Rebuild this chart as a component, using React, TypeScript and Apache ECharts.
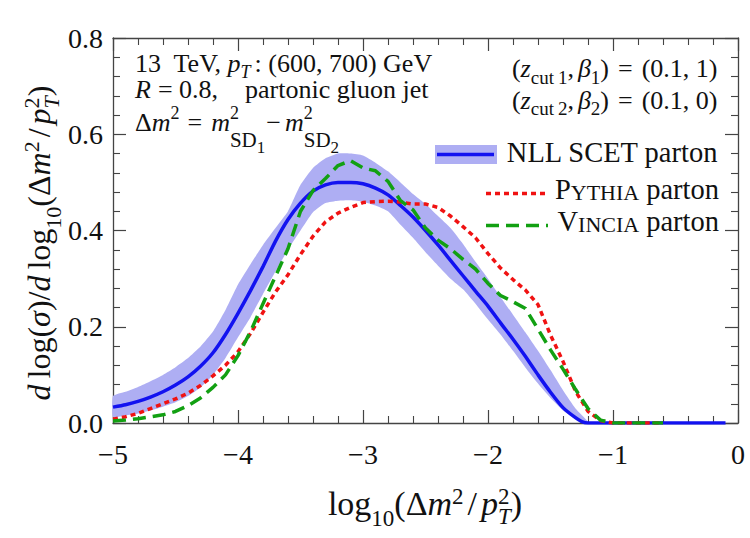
import React, { useEffect, useRef } from "react";
import * as echarts from "echarts";

const SERIF = "Liberation Serif";

// NLL SCET parton: central curve
const nllX = [-5.0, -4.9, -4.8, -4.7, -4.6, -4.5, -4.4, -4.3, -4.2, -4.1, -4.0, -3.9, -3.8, -3.7, -3.6, -3.5, -3.4, -3.3, -3.2, -3.1, -3.0, -2.9, -2.8, -2.7, -2.6, -2.5, -2.4, -2.3, -2.2, -2.1, -2.0, -1.9, -1.8, -1.7, -1.6, -1.5, -1.4, -1.3, -1.25, -1.2, -0.1];
const nllY = [0.033, 0.038, 0.045, 0.054, 0.065, 0.079, 0.096, 0.118, 0.146, 0.184, 0.228, 0.275, 0.325, 0.378, 0.423, 0.457, 0.482, 0.495, 0.5, 0.5, 0.497, 0.488, 0.474, 0.452, 0.428, 0.4, 0.37, 0.338, 0.306, 0.274, 0.243, 0.208, 0.174, 0.138, 0.1, 0.064, 0.032, 0.011, 0.003, 0, 0];

// NLL SCET parton: uncertainty band
const bandX = [-5.0, -4.9, -4.8, -4.7, -4.6, -4.5, -4.4, -4.3, -4.2, -4.1, -4.0, -3.9, -3.8, -3.7, -3.6, -3.5, -3.4, -3.3, -3.2, -3.1, -3.0, -2.9, -2.8, -2.7, -2.6, -2.5, -2.4, -2.3, -2.2, -2.1, -2.0, -1.9, -1.8, -1.7, -1.6, -1.5, -1.4, -1.3, -1.2];
const bandHigh = [0.056, 0.065, 0.075, 0.087, 0.1, 0.116, 0.135, 0.159, 0.19, 0.235, 0.288, 0.33, 0.37, 0.405, 0.44, 0.495, 0.53, 0.55, 0.56, 0.56, 0.556, 0.541, 0.523, 0.5, 0.476, 0.455, 0.43, 0.405, 0.372, 0.335, 0.3, 0.262, 0.225, 0.188, 0.15, 0.11, 0.068, 0.03, 0.003];
const bandLow = [0.012, 0.016, 0.02, 0.026, 0.034, 0.043, 0.056, 0.074, 0.1, 0.135, 0.178, 0.22, 0.268, 0.315, 0.36, 0.4, 0.438, 0.457, 0.462, 0.463, 0.46, 0.452, 0.44, 0.412, 0.385, 0.355, 0.327, 0.3, 0.278, 0.248, 0.215, 0.184, 0.15, 0.115, 0.082, 0.052, 0.026, 0.008, 0.0];

// Pythia parton
const pythiaX = [-5.0, -4.9, -4.8, -4.7, -4.6, -4.5, -4.4, -4.3, -4.2, -4.1, -4.0, -3.9, -3.8, -3.7, -3.6, -3.5, -3.4, -3.3, -3.2, -3.1, -3.0, -2.9, -2.8, -2.7, -2.6, -2.5, -2.4, -2.3, -2.2, -2.1, -2.0, -1.9, -1.8, -1.7, -1.6, -1.5, -1.4, -1.3, -1.2, -1.1, -1.0, -0.6];
const pythiaY = [0.008, 0.013, 0.02, 0.03, 0.04, 0.05, 0.062, 0.078, 0.098, 0.12, 0.148, 0.186, 0.23, 0.272, 0.308, 0.35, 0.388, 0.418, 0.436, 0.448, 0.458, 0.46, 0.461, 0.459, 0.455, 0.455, 0.448, 0.43, 0.408, 0.385, 0.352, 0.322, 0.298, 0.276, 0.246, 0.183, 0.128, 0.066, 0.024, 0.005, 0.0, 0.0];

// Vincia parton
const vinciaX = [-5.0, -4.9, -4.8, -4.7, -4.6, -4.5, -4.4, -4.3, -4.2, -4.1, -4.0, -3.9, -3.8, -3.7, -3.6, -3.5, -3.4, -3.3, -3.2, -3.1, -3.0, -2.9, -2.8, -2.7, -2.6, -2.5, -2.4, -2.3, -2.2, -2.1, -2.0, -1.9, -1.8, -1.7, -1.6, -1.5, -1.4, -1.3, -1.2, -1.1, -1.0, -0.6];
const vinciaY = [0.004, 0.006, 0.009, 0.013, 0.017, 0.024, 0.036, 0.052, 0.074, 0.1, 0.14, 0.19, 0.248, 0.305, 0.362, 0.44, 0.483, 0.508, 0.535, 0.545, 0.53, 0.524, 0.502, 0.462, 0.443, 0.405, 0.38, 0.362, 0.34, 0.32, 0.29, 0.265, 0.252, 0.238, 0.195, 0.152, 0.112, 0.07, 0.03, 0.006, 0.0, 0.0];

const BLUE = "#1212f0";
const RED = "#f01212";
const GREEN = "#12a012";
const BAND = "#aeaef3";
const FRAME = "#444444";

// One piece of a typeset formula: text, size, italic, baseline shift,
// extra gap before it, and whether the next piece sits at the same x (stacked scripts).
type Seg = { t: string; s?: number; it?: boolean; dy?: number; pre?: number; stack?: boolean };

let measureCtx: CanvasRenderingContext2D | null = null;
function textWidth(t: string, size: number, italic: boolean): number {
  if (!measureCtx) measureCtx = document.createElement("canvas").getContext("2d");
  measureCtx!.font = `${italic ? "italic " : ""}${size}px ${SERIF}`;
  return measureCtx!.measureText(t).width;
}

function formula(segs: Seg[], x: number, baseY: number, align: "left" | "center" | "right", size: number, rotation = 0) {
  let cursor = 0;
  let stackW = 0;
  const placed: { seg: Seg; x: number; s: number }[] = [];
  for (const seg of segs) {
    const s = seg.s ?? size;
    cursor += seg.pre ?? 0;
    const w = textWidth(seg.t, s, !!seg.it);
    placed.push({ seg, x: cursor, s });
    if (seg.stack) {
      stackW = Math.max(stackW, w);
    } else {
      cursor += Math.max(w, stackW);
      stackW = 0;
    }
  }
  const off = align === "left" ? 0 : align === "center" ? -cursor / 2 : -cursor;
  return {
    type: "group",
    x,
    y: baseY,
    rotation,
    silent: true,
    children: placed.map((p) => ({
      type: "text",
      x: p.x + off,
      y: (p.seg.dy ?? 0) - 0.3375 * p.s,
      style: {
        text: p.seg.t,
        fontSize: p.s,
        fontFamily: SERIF,
        fontStyle: p.seg.it ? "italic" : "normal",
        fill: "#111",
        align: "left",
        verticalAlign: "middle",
      },
    })),
  };
}

const pairs = (xs: number[], ys: number[]) => xs.map((x, i) => [x, ys[i]]);

function buildOption() {
  const axisLine = { show: true, onZero: false, lineStyle: { color: FRAME, width: 1.3 } };
  const axisTick = { show: true, inside: true, length: 13, lineStyle: { color: FRAME, width: 1.2 } };
  const minorTick = { show: true, splitNumber: 5, length: 7, lineStyle: { color: FRAME, width: 1.1 } };
  const labelStyle = { fontSize: 28, fontFamily: SERIF, color: "#111" };

  const zcutLine = (k: string, val: string, y: number) =>
    formula(
      [
        { t: "(" },
        { t: "z", it: true },
        { t: "cut", s: 19, dy: 6 },
        { t: k, s: 19, dy: 6, pre: 4 },
        { t: "," },
        { t: "β", it: true, pre: 4 },
        { t: k, s: 19, dy: 6 },
        { t: ")" },
        { t: "=", pre: 9 },
        { t: val, pre: 9 },
      ],
      717.5, y, "right", 26
    );

  const graphic: any[] = [
    // annotation, upper left
    formula(
      [
        { t: "13\u00a0 TeV," },
        { t: "p", it: true, pre: 6 },
        { t: "T", it: true, s: 18, dy: 6 },
        { t: ": (600, 700) GeV", pre: 4 },
      ],
      135, 72.5, "left", 26
    ),
    formula(
      [
        { t: "R", it: true },
        { t: "= 0.8,", pre: 7 },
        { t: "partonic gluon jet", pre: 27 },
      ],
      135, 98, "left", 26
    ),
    formula(
      [
        { t: "Δ" },
        { t: "m", it: true },
        { t: "2", s: 18, dy: -12 },
        { t: "=", pre: 8 },
        { t: "m", it: true, pre: 9 },
        { t: "2", s: 18, dy: -12, stack: true },
        { t: "SD", s: 21, dy: 16 },
        { t: "1", s: 17, dy: 22 },
        { t: "\u2212", pre: 1 },
        { t: "m", it: true, pre: 4 },
        { t: "2", s: 18, dy: -12, stack: true },
        { t: "SD", s: 21, dy: 16 },
        { t: "2", s: 17, dy: 22 },
      ],
      135, 131.5, "left", 26
    ),
    // annotation, upper right
    zcutLine("1", "(0.1, 1)", 77.6),
    zcutLine("2", "(0.1, 0)", 109),
    // legend
    { type: "rect", silent: true, shape: { x: 435, y: 145, width: 62, height: 19 }, style: { fill: BAND } },
    { type: "line", silent: true, shape: { x1: 437, y1: 154.5, x2: 494, y2: 154.5 }, style: { stroke: BLUE, lineWidth: 3.5 } },
    formula([{ t: "NLL SCET parton" }], 719, 162, "right", 28.5),
    { type: "line", silent: true, shape: { x1: 486, y1: 193.5, x2: 545, y2: 193.5 }, style: { stroke: RED, lineWidth: 3.5, lineDash: [5, 4] } },
    formula([{ t: "P" }, { t: "YTHIA", s: 22 }, { t: "parton", pre: 7 }], 719, 199.5, "right", 28.5),
    { type: "line", silent: true, shape: { x1: 486, y1: 225.5, x2: 548, y2: 225.5 }, style: { stroke: GREEN, lineWidth: 3.5, lineDash: [13, 7] } },
    formula([{ t: "V" }, { t: "INCIA", s: 22 }, { t: "parton", pre: 7 }], 719, 231.5, "right", 28.5),
    // axis titles
    formula(
      [
        { t: "log" },
        { t: "10", s: 23, dy: 11 },
        { t: "(Δ" },
        { t: "m", it: true },
        { t: "2", s: 23, dy: -11 },
        { t: "/", pre: 4 },
        { t: "p", it: true, pre: 4 },
        { t: "T", it: true, s: 23, dy: 9, stack: true },
        { t: "2", s: 23, dy: -11 },
        { t: ")" },
      ],
      425, 515, "center", 34
    ),
    formula(
      [
        { t: "d", it: true },
        { t: "log(", pre: 6 },
        { t: "σ", it: true },
        { t: ")/" },
        { t: "d", it: true },
        { t: "log", pre: 6 },
        { t: "10", s: 22, dy: 11 },
        { t: "(Δ" },
        { t: "m", it: true },
        { t: "2", s: 22, dy: -11 },
        { t: "/", pre: 4 },
        { t: "p", it: true, pre: 4 },
        { t: "T", it: true, s: 22, dy: 9, stack: true },
        { t: "2", s: 22, dy: -11 },
        { t: ")" },
      ],
      50, 243, "center", 32, Math.PI / 2
    ),
  ];

  return {
    animation: false,
    backgroundColor: "#ffffff",
    grid: { left: 113, top: 38, width: 625, height: 385, containLabel: false },
    xAxis: [
      {
        type: "value", min: -5, max: 0, interval: 1, position: "bottom",
        axisLine, axisTick, minorTick, splitLine: { show: false }, minorSplitLine: { show: false },
        axisLabel: {
          ...labelStyle, margin: 17,
          formatter: (v: number) => (v < 0 ? "\u2212" + Math.abs(v) : String(v)),
        },
      },
      {
        type: "value", min: -5, max: 0, interval: 1, position: "top",
        axisLine, axisTick, minorTick, splitLine: { show: false }, axisLabel: { show: false },
      },
    ],
    yAxis: [
      {
        type: "value", min: 0, max: 0.8, interval: 0.2, position: "left",
        axisLine, axisTick, minorTick, splitLine: { show: false },
        axisLabel: { ...labelStyle, margin: 10, formatter: (v: number) => v.toFixed(1) },
      },
      {
        type: "value", min: 0, max: 0.8, interval: 0.2, position: "right",
        axisLine, axisTick, minorTick, splitLine: { show: false }, axisLabel: { show: false },
      },
    ],
    series: [
      {
        type: "custom",
        name: "NLL band",
        xAxisIndex: 0,
        yAxisIndex: 0,
        silent: true,
        z: 1,
        data: [[bandX[0], bandLow[0]]],
        renderItem: (_params: any, api: any) => {
          const pts: number[][] = [];
          bandX.forEach((x, i) => pts.push(api.coord([x, bandHigh[i]])));
          for (let i = bandX.length - 1; i >= 0; i--) pts.push(api.coord([bandX[i], bandLow[i]]));
          return { type: "polygon", shape: { points: pts, smooth: 0.15 }, style: { fill: BAND } };
        },
      },
      {
        type: "line", name: "NLL SCET parton", data: pairs(nllX, nllY), showSymbol: false, smooth: 0.2,
        lineStyle: { color: BLUE, width: 3.5 }, z: 2,
      },
      {
        type: "line", name: "Pythia parton", data: pairs(pythiaX, pythiaY), showSymbol: false,
        lineStyle: { color: RED, width: 3.5, type: [5, 4] }, z: 3,
      },
      {
        type: "line", name: "Vincia parton", data: pairs(vinciaX, vinciaY), showSymbol: false,
        lineStyle: { color: GREEN, width: 3.5, type: [13, 7] }, z: 4,
      },
    ],
    graphic,
  };
}

export default function App() {
  const ref = useRef<HTMLDivElement>(null);
  useEffect(() => {
    document.body.style.margin = "0";
    if (!ref.current) return;
    const chart = echarts.init(ref.current, undefined, { renderer: "svg" });
    chart.setOption(buildOption() as any);
    return () => chart.dispose();
  }, []);
  return <div ref={ref} style={{ position: "fixed", left: 0, top: 0, width: 750, height: 538, background: "#fff" }} />;
}
